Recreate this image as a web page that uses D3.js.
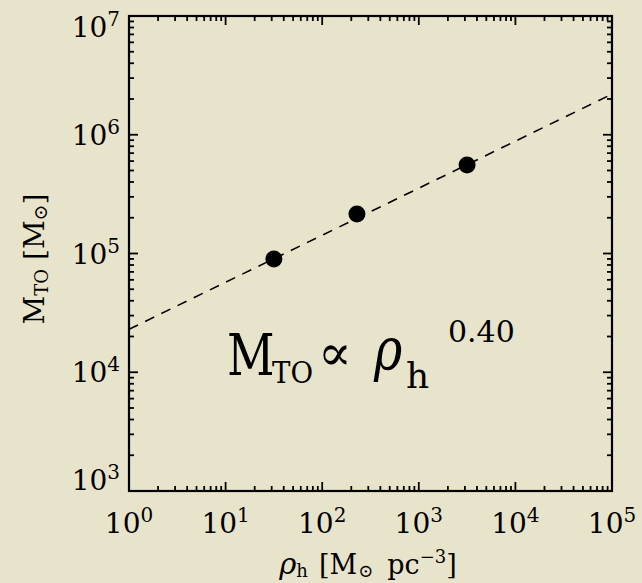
<!DOCTYPE html>
<html><head><meta charset="utf-8">
<script src="https://cdn.jsdelivr.net/npm/d3@7"></script>
<style>
html,body{margin:0;padding:0;background:#e8e4cc;}
svg{display:block;}
text{font-family:"DejaVu Serif",serif;fill:#000;}
</style></head>
<body>
<script>
// ---- data ----
const rho = [31.6, 229, 3160];          // rho_h [Msun pc^-3]
const mto = [9.0e4, 2.15e5, 5.56e5];    // M_TO [Msun]
const fitRho = [1, 1e5];                // power-law fit endpoints
const fitM = [2.3e4, 2.2e6];
const xTickExps = [0, 1, 2, 3, 4, 5];
const yTickExps = [3, 4, 5, 6, 7];
const annotExponent = "0.40";

const W = 642, H = 583;
const L = 129, R = 612, T = 16, B = 491;

const svg = d3.select("body").append("svg").attr("width", W).attr("height", H);
svg.append("rect").attr("width", W).attr("height", H).attr("fill", "#e8e4cc");

const x = d3.scaleLog().domain([1, 1e5]).range([L, R]);
const y = d3.scaleLog().domain([1e3, 1e7]).range([B, T]);

function tickVals(lo, hi) {
  const out = [];
  for (let e = lo; e < hi; e++) for (let m = 1; m <= 9; m++) out.push({v: m * Math.pow(10, e), major: m === 1});
  out.push({v: Math.pow(10, hi), major: true});
  return out;
}
const g = svg.append("g").attr("stroke", "#000").attr("stroke-width", 1.8);
tickVals(0, 5).forEach(t => {
  const px = x(t.v), len = t.major ? 9 : 5;
  g.append("line").attr("x1", px).attr("x2", px).attr("y1", B).attr("y2", B - len);
  g.append("line").attr("x1", px).attr("x2", px).attr("y1", T).attr("y2", T + len);
});
tickVals(3, 7).forEach(t => {
  const py = y(t.v), len = t.major ? 9 : 5;
  g.append("line").attr("x1", L).attr("x2", L + len).attr("y1", py).attr("y2", py);
  g.append("line").attr("x1", R).attr("x2", R - len).attr("y1", py).attr("y2", py);
});
svg.append("rect").attr("x", L).attr("y", T).attr("width", R - L).attr("height", B - T)
  .attr("fill", "none").attr("stroke", "#000").attr("stroke-width", 2.2);

// tick labels
xTickExps.forEach(e => {
  const t = svg.append("text").attr("x", x(Math.pow(10, e))).attr("y", 533)
    .attr("text-anchor", "middle").attr("font-size", 28).text("10");
  t.append("tspan").attr("font-size", 20).attr("dy", -11).text(e);
});
yTickExps.forEach(e => {
  let cy = y(Math.pow(10, e));
  cy = Math.max(T + 11, Math.min(B - 11, cy));
  const t = svg.append("text").attr("x", 120).attr("y", cy + 10)
    .attr("text-anchor", "end").attr("font-size", 28).text("10");
  t.append("tspan").attr("font-size", 20).attr("dy", -11).text(e);
});

// axis titles
const xt = svg.append("text").attr("x", 368).attr("y", 574).attr("text-anchor", "middle").attr("font-size", 27);
xt.append("tspan").attr("font-style", "italic").attr("font-size", 29).text("ρ");
xt.append("tspan").attr("font-size", 18).attr("dy", 3).text("h");
xt.append("tspan").attr("dy", -3).attr("dx", 11).text("[M");
xt.append("tspan").attr("font-size", 18).attr("dy", 3).attr("dx", 1).text("⊙");
xt.append("tspan").attr("dy", -3).attr("dx", 14).text("pc");
xt.append("tspan").attr("font-size", 18).attr("dy", -11).text("−3");
xt.append("tspan").attr("dy", 11).text("]");

const yt = svg.append("text").attr("transform", "translate(44,259) rotate(-90)")
  .attr("text-anchor", "middle").attr("font-size", 28);
yt.append("tspan").text("M");
yt.append("tspan").attr("font-size", 18).attr("dy", 4).text("TO");
yt.append("tspan").attr("dy", -4).attr("dx", 9).text("[M");
yt.append("tspan").attr("font-size", 19).attr("dy", 3).text("⊙");
yt.append("tspan").attr("dy", -3).text("]");

// fit line
const line = d3.line().x(d => x(d[0])).y(d => y(d[1]));
svg.append("path").datum(fitRho.map((r, i) => [r, fitM[i]]))
  .attr("d", line).attr("fill", "none").attr("stroke", "#000")
  .attr("stroke-width", 1.6).attr("stroke-dasharray", "10,8");

// points
svg.selectAll("circle.pt").data(rho.map((r, i) => [r, mto[i]])).enter()
  .append("circle").attr("class", "pt")
  .attr("cx", d => x(d[0])).attr("cy", d => y(d[1])).attr("r", 8.5).attr("fill", "#000");

// annotation
svg.append("text").attr("transform", "translate(227,375) scale(0.8,1)").attr("font-size", 58).text("M");
svg.append("text").attr("transform", "translate(272,383) scale(0.92,1)").attr("font-size", 30).text("TO");
svg.append("text").attr("x", 318).attr("y", 370).attr("font-size", 50).text("∝");
svg.append("text").attr("transform", "translate(374,370) scale(0.8,1)").attr("font-size", 60)
  .attr("font-style", "italic").text("ρ");
svg.append("text").attr("x", 406).attr("y", 388).attr("font-size", 36).text("h");
svg.append("text").attr("x", 448).attr("y", 342).attr("font-size", 30).text(annotExponent);
</script>
</body></html>
